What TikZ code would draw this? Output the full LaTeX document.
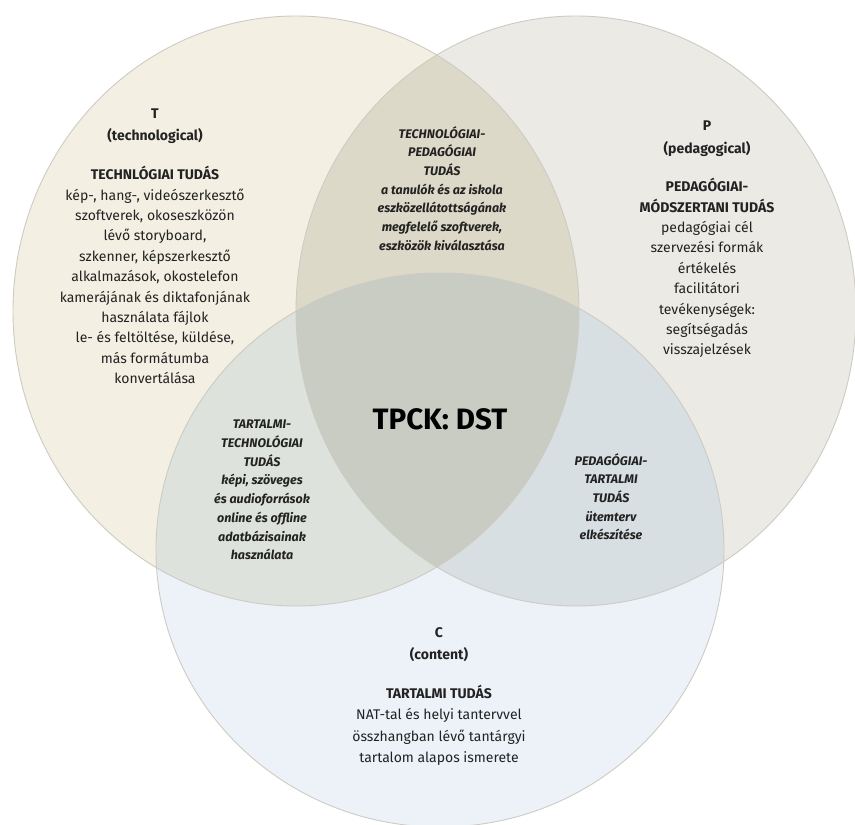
\documentclass[tikz,border=0pt]{standalone}
\usepackage{fontspec}
\setmainfont{Fira Sans}
\begin{document}
\begin{tikzpicture}[x=1pt,y=-1pt,
  ring/.style={draw=ringgray, line width=0.9pt},
  maintext/.style={align=center, text=inkdark, inner sep=0pt,
    font=\fontsize{14}{20.4}\selectfont},
  lenstext/.style={align=center, text=inkdark, inner sep=0pt,
    font=\fontsize{12.5}{18.7}\selectfont\bfseries\itshape},
  coretext/.style={align=center, text=black, inner sep=0pt,
    font=\fontsize{29.5}{32}\selectfont\bfseries}]
\definecolor{tfill}{RGB}{243,239,226}
\definecolor{pfill}{RGB}{235,234,229}
\definecolor{cfill}{RGB}{237,242,249}
\definecolor{tpfill}{RGB}{221,217,201}
\definecolor{tcfill}{RGB}{222,226,220}
\definecolor{pcfill}{RGB}{216,223,226}
\definecolor{tpcfill}{RGB}{201,204,194}
\definecolor{ringgray}{RGB}{205,203,195}
\definecolor{inkdark}{RGB}{34,34,34}
% the three knowledge domains
\def\pathT{(296,311) ellipse [x radius=283pt, y radius=295pt]}
\def\pathP{(576,311) ellipse [x radius=280pt, y radius=295pt]}
\def\pathC{(440,550) ellipse [x radius=284pt, y radius=277pt]}
\useasboundingbox (0,0) rectangle (855,825);
\fill[white] (0,0) rectangle (855,825);
% single-domain fills
\fill[tfill] \pathT;
\fill[pfill] \pathP;
\fill[cfill] \pathC;
% pairwise overlaps
\begin{scope}\clip \pathT; \fill[tpfill] \pathP; \end{scope}
\begin{scope}\clip \pathT; \fill[tcfill] \pathC; \end{scope}
\begin{scope}\clip \pathP; \fill[pcfill] \pathC; \end{scope}
% triple overlap
\begin{scope}\clip \pathT; \clip \pathP; \fill[tpcfill] \pathC; \end{scope}
% outlines
\draw[ring] \pathT;
\draw[ring] \pathP;
\draw[ring] \pathC;

% T domain
\node[maintext, anchor=north] (tlabel) at (155,109) {\bfseries T\\[1.5pt]
  \bfseries (technological)\\[18pt]
  \bfseries TECHNLÓGIAI TUDÁS\\[0.5pt]
  kép-, hang-, videószerkesztő\\
  szoftverek, okoseszközön\\
  lévő storyboard,\\
  szkenner, képszerkesztő\\
  alkalmazások, okostelefon\\
  kamerájának és diktafonjának\\
  használata fájlok\\
  le- és feltöltése, küldése,\\
  más formátumba\\
  konvertálása};

% P domain
\node[maintext, anchor=north] (plabel) at (707,121) {\bfseries P\\[2pt]
  \bfseries (pedagogical)\\[18pt]
  \bfseries PEDAGÓGIAI-\\
  \bfseries MÓDSZERTANI TUDÁS\\
  pedagógiai cél\\
  szervezési formák\\
  értékelés\\
  facilitátori\\
  tevékenységek:\\
  segítségadás\\
  visszajelzések};

% C domain
\node[maintext, anchor=north] (clabel) at (439,627) {\bfseries C\\[1.5pt]
  \bfseries (content)\\[19pt]
  \bfseries TARTALMI TUDÁS\\[1pt]
  NAT-tal és helyi tantervvel\\[1pt]
  összhangban lévő tantárgyi\\[1pt]
  tartalom alapos ismerete};

% pairwise overlaps
\node[lenstext, anchor=north] (tplabel) at (442,126) {TECHNOLÓGIAI-\\
  PEDAGÓGIAI\\
  TUDÁS\\
  a tanulók és az iskola\\
  eszközellátottságának\\
  megfelelő szoftverek,\\
  eszközök kiválasztása};

\node[lenstext, anchor=north] (tclabel) at (262,420) {TARTALMI-\\
  TECHNOLÓGIAI\\
  TUDÁS\\
  képi, szöveges\\
  és audioforrások\\
  online és offline\\
  adatbázisainak\\
  használata};

\node[lenstext, anchor=north] (pclabel) at (611,453) {PEDAGÓGIAI-\\
  TARTALMI\\
  TUDÁS\\
  ütemterv\\
  elkészítése};

% triple overlap
\node[coretext] (core) at (440,419) {TPCK: DST};
\end{tikzpicture}
\end{document}
